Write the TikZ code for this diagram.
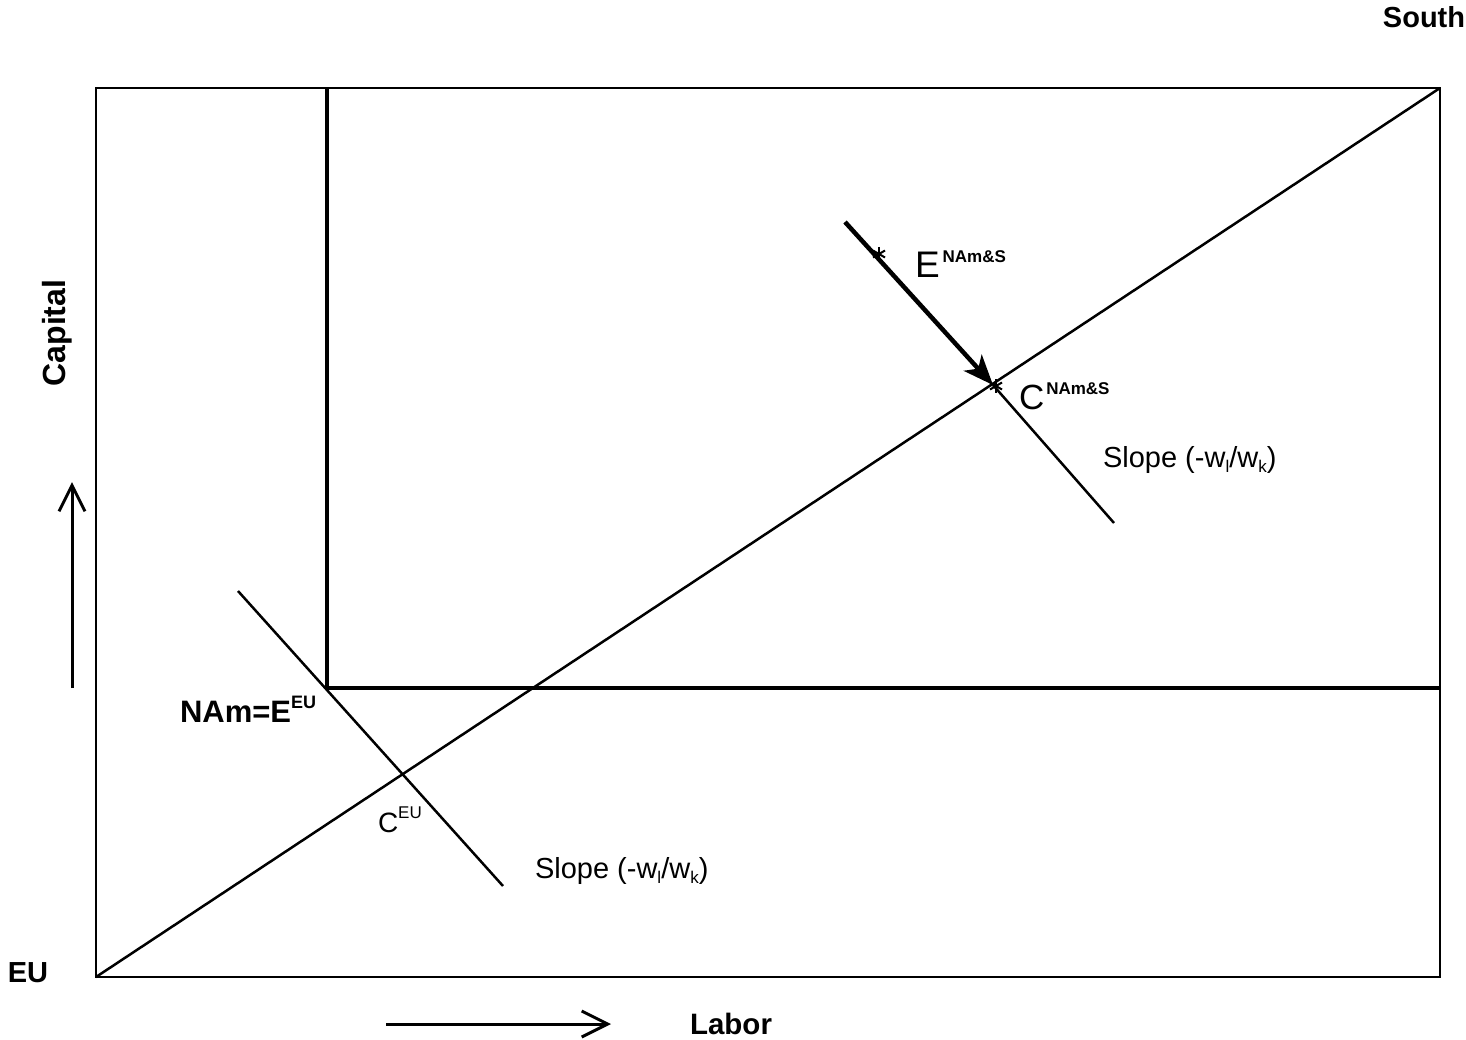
\documentclass[tikz,border=0pt]{standalone}
\usepackage{fontspec}
\setmainfont{Liberation Sans}
\usetikzlibrary{arrows.meta}
\newcommand{\fs}[1]{\fontsize{#1}{#1}\selectfont}
\newcommand{\sub}[1]{\raisebox{-5pt}{\fs{17}#1}}
\newcommand{\sups}[2]{\raisebox{#1}{\fs{17}#2}}
\begin{document}
\begin{tikzpicture}[x=1pt,y=-1pt,
  lbl/.style={inner sep=0pt, outer sep=0pt, anchor=base west},
  frame/.style={line width=2.5pt, line join=miter},
  heavy/.style={line width=3.5pt},
  thin/.style={line width=2.5pt},
  axisarrow/.style={line width=3pt, -{Straight Barb[length=26pt,width=26pt,line width=3pt]}},
  moveto/.style={line width=4.5pt, -{Stealth[length=30pt,width=24pt,inset=8pt]}},
  starmark/.style={line width=2pt}]
\useasboundingbox (0,0) rectangle (1466,1040);
% key points
\coordinate (O) at (96,977);
\coordinate (S) at (1440,88);
\coordinate (NAm) at (327,688);
\coordinate (CEU) at (403,775);
\coordinate (CNS) at (993,385);
\coordinate (ENS) at (845,222);
\coordinate (l1a) at (238,591);
\coordinate (l1b) at (503,886);
\coordinate (l2b) at (1114,523);
% box
\draw[frame] (96,88) rectangle (1440,977);
% NAm box lines
\draw[heavy] (327,88) -- (NAm) -- (1440,688);
% diagonal
\draw[thin] (O) -- (S);
% slope lines
\draw[thin] (l1a) -- (l1b);
\draw[thin] (CNS) -- (l2b);
% thick arrow
\draw[moveto] (ENS) -- (CNS);
% asterisk marks
\foreach \px/\py in {879/254, 996/386}{
  \begin{scope}[shift={(\px,\py)}]
    \draw[starmark] (0,-7) -- (0,7);
    \draw[starmark] (-6,-3.5) -- (6,3.5);
    \draw[starmark] (-6,3.5) -- (6,-3.5);
  \end{scope}
}
% axis arrows
\coordinate (ka) at (72,688);
\coordinate (kb) at (72,482);
\draw[axisarrow] (ka) -- (kb);
\coordinate (la) at (386,1024);
\coordinate (lb) at (611,1024);
\draw[axisarrow] (la) -- (lb);
% labels
\node[inner sep=0pt] (south) at (1424,17) {\fs{29}\bfseries South};
\node[inner sep=0pt, rotate=90] (capital) at (57,333) {\fs{32}\bfseries Capital};
\node[inner sep=0pt] (labor) at (731,1024) {\fs{29.5}\bfseries Labor};
\node[inner sep=0pt] (eu) at (28,973) {\fs{29}\bfseries EU};
\node[lbl] (nam) at (180,722) {\fs{31}\bfseries NAm=E\sups{14pt}{\fs{18}\bfseries EU}};
\node[lbl] (ceu) at (378,832) {\fs{28}C\sups{14pt}{EU}};
\node[lbl] (slope1) at (535,878) {\fs{29}Slope (-w\sub{l}/w\sub{k})};
\node[lbl] (slope2) at (1103,467) {\fs{29}Slope (-w\sub{l}/w\sub{k})};
\node[lbl] (ens) at (915,278) {\fs{37}E\hspace{3pt}\sups{15pt}{\bfseries NAm\&S}};
\node[lbl] (cns) at (1019,409) {\fs{35}C\hspace{2pt}\sups{15pt}{\bfseries NAm\&S}};
\end{tikzpicture}
\end{document}
